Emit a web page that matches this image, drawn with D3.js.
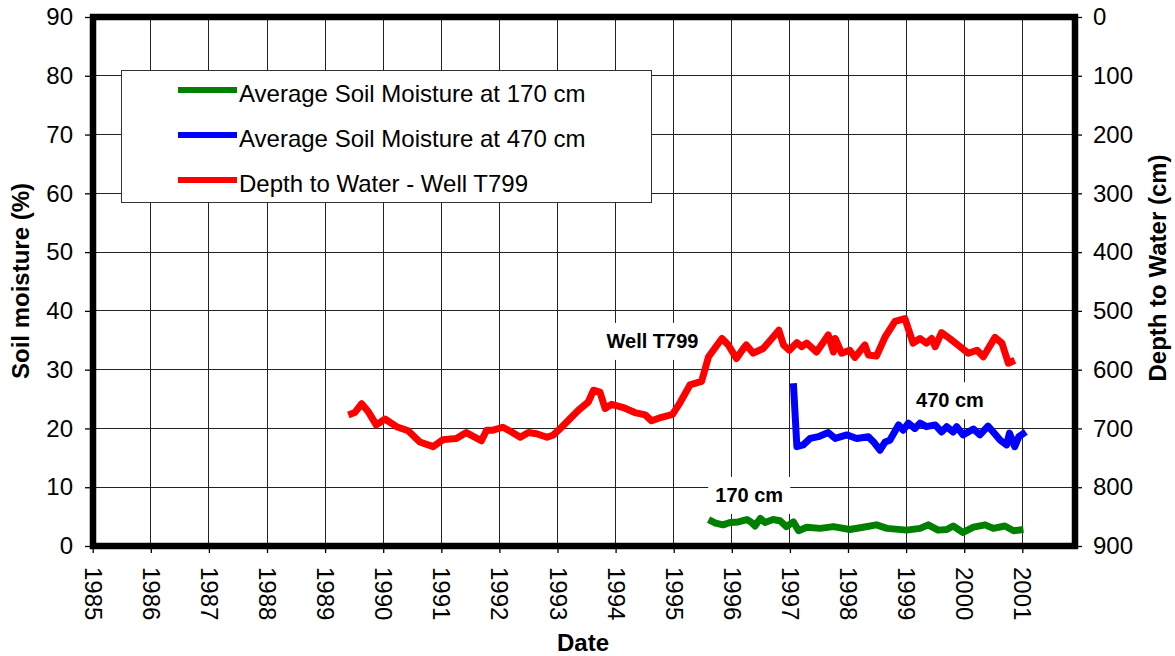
<!DOCTYPE html>
<html><head><meta charset="utf-8">
<script src="https://cdn.jsdelivr.net/npm/d3@7"></script>
<style>
html,body{margin:0;padding:0;background:#fff;}
svg{display:block;font-family:"Liberation Sans",Arial,Helvetica,sans-serif;}
</style></head><body>
<svg id="chart" width="1175" height="656"></svg>
<script>
// ---------- data ----------
const yearTicks = [1985,1986,1987,1988,1989,1990,1991,1992,1993,1994,1995,1996,1997,1998,1999,2000,2001];
const moistureTicks = [0,10,20,30,40,50,60,70,80,90];
const depthTicks = [0,100,200,300,400,500,600,700,800,900];

const seriesNames = ["Average Soil Moisture at 170 cm","Average Soil Moisture at 470 cm","Depth to Water - Well T799"];

// Depth to water, Well T799 (decimal year, cm below surface)
const wellDates = [1989.40,1989.51,1989.63,1989.74,1989.88,1990.03,1990.23,1990.43,1990.63,1990.86,
  1991.03,1991.26,1991.43,1991.69,1991.78,1991.89,1992.06,1992.21,1992.36,1992.50,1992.64,1992.82,1992.93,
  1993.04,1993.21,1993.36,1993.53,1993.62,1993.73,1993.82,1993.93,1994.12,1994.33,1994.51,1994.62,1994.79,1994.98,
  1995.11,1995.28,1995.48,1995.60,1995.83,1995.94,1996.08,1996.20,1996.25,1996.37,1996.54,1996.69,1996.81,1996.89,1996.99,
  1997.12,1997.20,1997.29,1997.46,1997.66,1997.75,1997.78,1997.89,1998.03,1998.12,1998.29,1998.35,1998.49,1998.64,1998.81,1998.98,
  1999.12,1999.24,1999.35,1999.44,1999.50,1999.61,1999.75,1999.93,2000.07,2000.22,2000.33,2000.53,2000.65,2000.76,2000.87];
const wellDepth = [677,673,658,671,694,684,697,704,723,731,
  719,717,707,721,703,703,698,706,715,707,709,715,711,
  701,684,669,655,635,638,666,659,664,673,677,687,681,676,
  656,626,620,578,547,558,581,564,558,572,564,547,533,558,567,
  554,561,555,570,541,570,547,572,567,579,558,575,577,544,518,513,
  555,547,555,547,561,537,547,561,572,567,578,545,555,589,584];

// Average soil moisture at 470 cm (%)
const m470Dates = [1997.06,1997.12,1997.23,1997.35,1997.49,1997.66,1997.78,1997.98,1998.15,1998.35,1998.44,1998.55,1998.64,1998.72,
  1998.87,1998.95,1999.04,1999.15,1999.24,1999.35,1999.50,1999.61,1999.70,1999.81,1999.87,1999.98,2000.16,2000.27,2000.41,2000.50,
  2000.62,2000.73,2000.78,2000.87,2000.94,2001.06];
const m470Values = [27.7,16.9,17.2,18.3,18.6,19.3,18.3,18.9,18.3,18.6,17.7,16.3,17.7,18.0,
  20.6,19.7,20.9,20.0,20.9,20.3,20.6,19.4,20.3,19.4,20.3,18.9,19.9,18.9,20.4,19.4,
  18.0,17.2,19.2,16.9,18.6,19.4];

// Average soil moisture at 170 cm (%)
const m170Dates = [1995.60,1995.72,1995.85,1995.97,1996.11,1996.26,1996.34,1996.40,1996.49,1996.57,1996.71,1996.83,1996.94,1997.06,
  1997.15,1997.29,1997.52,1997.75,1998.03,1998.26,1998.49,1998.67,1999.01,1999.24,1999.38,1999.55,1999.70,1999.81,1999.98,
  2000.16,2000.36,2000.50,2000.70,2000.85,2001.02];
const m170Values = [4.5,3.9,3.6,4.0,4.1,4.5,4.0,3.4,4.7,4.0,4.5,4.3,3.3,4.1,
  2.6,3.2,3.0,3.3,2.8,3.2,3.6,3.0,2.7,3.0,3.6,2.7,2.8,3.4,2.3,
  3.2,3.6,3.0,3.4,2.6,2.8];

// ---------- style ----------
const COLORS = {m170:"#008000", m470:"#0000ff", well:"#ff0000"};
const FONT = 24, TITLE = 24;

// ---------- scales ----------
const L = 93, R = 1075, T = 17, B = 546;
const x = d3.scaleLinear().domain([1985, 2001.907]).range([L - 0.3, R]);
const yL = d3.scaleLinear().domain([0, 90]).range([B, T]);
const yR = d3.scaleLinear().domain([0, 900]).range([T, B]);

const svg = d3.select("#chart");
svg.append("rect").attr("width",1175).attr("height",656).attr("fill","#fff");

// gridlines
const grid = svg.append("g").attr("shape-rendering","crispEdges").attr("stroke","#222").attr("stroke-width",1);
grid.selectAll("line.v").data(yearTicks).join("line").attr("class","v")
  .attr("x1",d=>x(d)).attr("x2",d=>x(d)).attr("y1",T).attr("y2",B);
grid.selectAll("line.h").data(moistureTicks).join("line").attr("class","h")
  .attr("x1",L).attr("x2",R).attr("y1",d=>yL(d)).attr("y2",d=>yL(d));

// annotation boxes
const notes = [
  {text:"Well T799", yr:1994.635, v:33.7, w:107},
  {text:"470 cm", yr:1999.755, v:23.6, w:80},
  {text:"170 cm", yr:1996.30, v:7.5, w:82}
];
const ng = svg.append("g");
notes.forEach(n=>{
  const cx = x(n.yr), by = yL(n.v);
  ng.append("rect").attr("x",cx-n.w/2).attr("y",by-25).attr("width",n.w).attr("height",37).attr("fill","#fff");
  ng.append("text").attr("x",cx).attr("y",by).attr("text-anchor","middle")
    .attr("font-size",20).attr("font-weight","bold").attr("fill","#000").text(n.text);
});

// series
const lineL = d3.line().x(d=>x(d[0])).y(d=>yL(d[1]));
const lineR = d3.line().x(d=>x(d[0])).y(d=>yR(d[1]));
const seriesG = svg.append("g").attr("fill","none").attr("stroke-width",7)
  .attr("stroke-linejoin","round").attr("stroke-linecap","butt");
seriesG.append("path").attr("d", lineR(d3.zip(wellDates, wellDepth))).attr("stroke",COLORS.well);
seriesG.append("path").attr("d", lineL(d3.zip(m470Dates, m470Values))).attr("stroke",COLORS.m470);
seriesG.append("path").attr("d", lineL(d3.zip(m170Dates, m170Values))).attr("stroke",COLORS.m170);

// legend
const lg = svg.append("g");
lg.append("rect").attr("x",121.5).attr("y",70.5).attr("width",530).attr("height",132)
  .attr("fill","#fff").attr("stroke","#333").attr("stroke-width",1);
const legColors = [COLORS.m170, COLORS.m470, COLORS.well];
const legY = [90, 135, 180];
seriesNames.forEach((name,i)=>{
  lg.append("line").attr("x1",178).attr("x2",237).attr("y1",legY[i]).attr("y2",legY[i])
    .attr("stroke",legColors[i]).attr("stroke-width",6);
  lg.append("text").attr("x",239).attr("y",legY[i]+12).attr("font-size",FONT).attr("fill","#000").text(name);
});

// border
svg.append("rect").attr("x",L).attr("y",T).attr("width",R-L).attr("height",B-T)
  .attr("fill","none").attr("stroke","#000").attr("stroke-width",6.5);

// axes
function styleAxis(g){
  g.select(".domain").remove();
  g.selectAll(".tick line").attr("stroke","#000").attr("stroke-width",1.3);
  g.selectAll(".tick text").attr("font-size",FONT).attr("fill","#000")
    .attr("font-family",'"Liberation Sans",Arial,sans-serif');
}
svg.append("g").attr("transform",`translate(${L},0)`)
  .call(d3.axisLeft(yL).tickValues(moistureTicks).tickSize(8).tickPadding(12)).call(styleAxis);
svg.append("g").attr("transform",`translate(${R},0)`)
  .call(d3.axisRight(yR).tickValues(depthTicks).tickSize(7).tickPadding(11)).call(styleAxis);
const xa = svg.append("g").attr("transform",`translate(0,${B})`)
  .call(d3.axisBottom(x).tickValues(yearTicks).tickFormat(d3.format("d")).tickSize(7)).call(styleAxis);
xa.selectAll(".tick text").attr("x",0).attr("y",0).attr("dy",null)
  .attr("transform","translate(0,21) rotate(90)").attr("text-anchor","start")
  .attr("dominant-baseline","central");

// titles
svg.append("text").attr("transform","translate(29,281) rotate(-90)").attr("text-anchor","middle")
  .attr("font-size",TITLE).attr("font-weight","bold").text("Soil moisture (%)");
svg.append("text").attr("transform","translate(1166,268) rotate(-90)").attr("text-anchor","middle")
  .attr("font-size",TITLE).attr("font-weight","bold").text("Depth to Water (cm)");
svg.append("text").attr("x",583).attr("y",651).attr("text-anchor","middle")
  .attr("font-size",TITLE).attr("font-weight","bold").text("Date");
</script>
</body></html>
